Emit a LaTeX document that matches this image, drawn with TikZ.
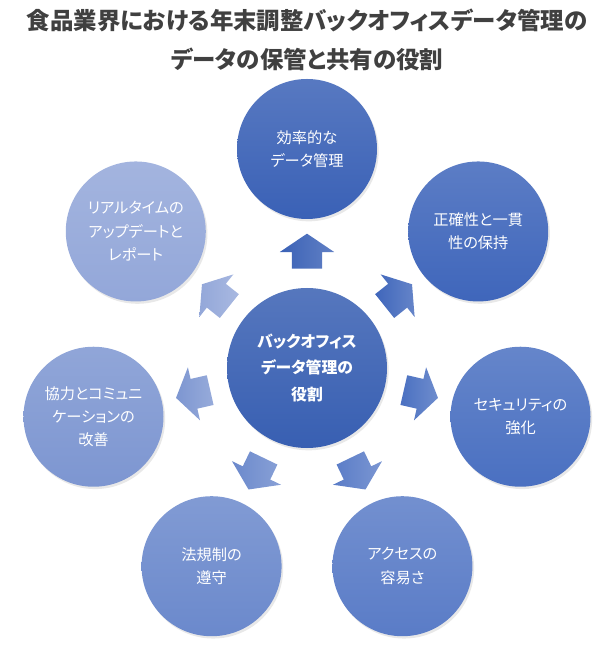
\documentclass[tikz,border=0pt]{standalone}
\usepackage{fontspec}
\newfontfamily\jp[RawFeature=+palt]{Noto Sans CJK JP}
\usepackage{xcolor}
\definecolor{hubblue}{RGB}{56,95,178}
\definecolor{bkA}{RGB}{58,97,182}
\definecolor{bkB}{RGB}{63,102,187}
\definecolor{bkC}{RGB}{74,112,193}
\definecolor{bkD}{RGB}{90,124,199}
\definecolor{bkE}{RGB}{107,137,204}
\definecolor{bkF}{RGB}{125,150,209}
\definecolor{bkG}{RGB}{147,167,217}
\definecolor{titlegray}{RGB}{64,64,64}
\usetikzlibrary{shapes.arrows, shadows, calc}

\tikzset{
  role/.style={circle, minimum size=4.2cm, inner sep=0pt, align=center, text=white,
    font=\jp\fontsize{13}{20}\selectfont, top color=#1!85!white, bottom color=#1,
    drop shadow={opacity=.18, shadow xshift=.05cm, shadow yshift=-.07cm}},
  hubnode/.style={circle, minimum size=4.8cm, inner sep=0pt, align=center, text=white,
    font=\jp\bfseries\fontsize{13.5}{23}\selectfont, top color=hubblue!85!white, bottom color=hubblue,
    drop shadow={opacity=.18, shadow xshift=.05cm, shadow yshift=-.07cm}},
  flowarrow/.style={single arrow, draw=none, inner xsep=.1cm, inner ysep=.45cm,
    single arrow head extend=.36cm, single arrow tip angle=112, minimum height=1.05cm,
    left color=#1, right color=#1!80!white}
}

\begin{document}
\begin{tikzpicture}
  \useasboundingbox (-9.21,-8.37) rectangle (9.21,11.04);
  % Title
  \node[font=\jp\bfseries\fontsize{20}{33}\selectfont, text=titlegray, align=center] (title) at (0,9.85)
    {食品業界における年末調整バックオフィスデータ管理の\\データの保管と共有の役割};
  % Hub
  \node[hubnode] (hub) at (0,0) {バックオフィス\\データ管理の\\役割};
  % Roles around the hub
  \node[role=bkA] (eff) at (90:6.57) {効率的な\\データ管理};
  \node[role=bkB] (acc) at (38.57:6.57) {正確性と一貫\\性の保持};
  \node[role=bkC] (sec) at (-12.86:6.57) {セキュリティの\\強化};
  \node[role=bkD] (easy) at (-64.29:6.6) {アクセスの\\容易さ};
  \node[role=bkE] (law) at (-115.71:6.6) {法規制の\\遵守};
  \node[role=bkF] (collab) at (-167.14:6.57) {協力とコミュニ\\ケーションの\\改善};
  \node[role=bkG] (live) at (141.43:6.57) {リアルタイムの\\アップデートと\\レポート};
  % Arrows from hub to roles
  \node[flowarrow=bkA, rotate=90] (toeff) at ($(hub)!.51!(eff)$) {};
  \node[flowarrow=bkB, rotate=38.57] (toacc) at ($(hub)!.51!(acc)$) {};
  \node[flowarrow=bkC, rotate=-12.86] (tosec) at ($(hub)!.51!(sec)$) {};
  \node[flowarrow=bkD, rotate=-64.29] (toeasy) at ($(hub)!.51!(easy)$) {};
  \node[flowarrow=bkE, rotate=-115.71] (tolaw) at ($(hub)!.51!(law)$) {};
  \node[flowarrow=bkF, rotate=-167.14] (tocollab) at ($(hub)!.51!(collab)$) {};
  \node[flowarrow=bkG, rotate=141.43] (tolive) at ($(hub)!.51!(live)$) {};
\end{tikzpicture}
\end{document}
